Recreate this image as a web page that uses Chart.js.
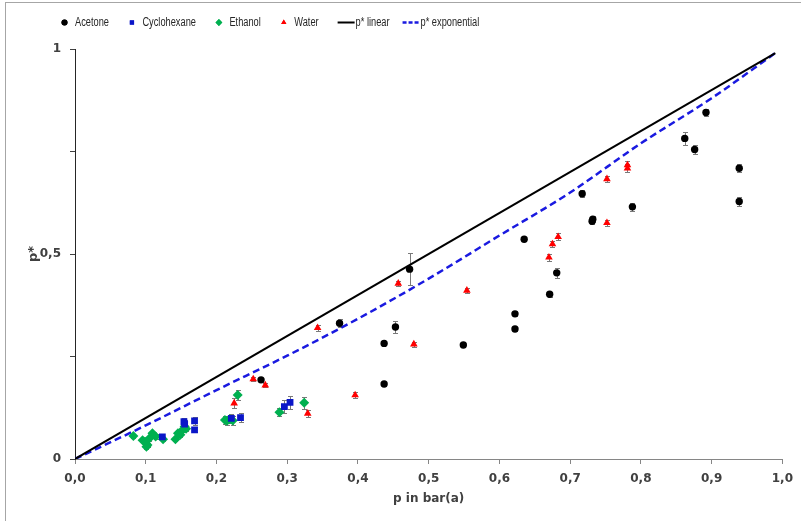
<!DOCTYPE html>
<html><head><meta charset="utf-8">
<script src="https://cdn.jsdelivr.net/npm/chart.js@4.4.1/dist/chart.umd.min.js"></script>
<style>html,body{margin:0;padding:0;background:#fff;}</style>
</head><body>
<canvas id="c" width="801" height="521"></canvas>
<script>
// ---- data ----
const xTickLabels = ['0,0','0,1','0,2','0,3','0,4','0,5','0,6','0,7','0,8','0,9','1,0'];
const yTickValues = [0, 0.25, 0.5, 0.75, 1];
const yTickLabels = ['0', '', '0,5', '', '1'];

const acetoneP     = [0.263,0.374,0.473,0.453,0.437,0.437,0.549,0.622,0.622,0.671,0.681,0.635,0.717,0.731,0.732,0.788,0.862,0.876,0.892,0.939,0.939];
const acetonePstar = [0.193,0.331,0.463,0.322,0.282,0.183,0.278,0.354,0.317,0.402,0.454,0.536,0.647,0.580,0.585,0.615,0.782,0.755,0.845,0.709,0.628];
const acetoneErr   = [0.005,0.010,0.039,0.015,0.005,0.005,0.005,0.006,0.006,0.006,0.013,0.005,0.008,0.008,0.008,0.010,0.015,0.010,0.008,0.010,0.010];

const cyclohexaneP     = [0.1235,0.154,0.155,0.169,0.169,0.221,0.234,0.296,0.304];
const cyclohexanePstar = [0.054,0.091,0.085,0.093,0.071,0.099,0.101,0.128,0.138];
const cyclohexaneErr   = [0.005,0.010,0.010,0.010,0.006,0.010,0.010,0.015,0.016];

const ethanolP     = [0.0825,0.0955,0.099,0.101,0.1025,0.105,0.1095,0.114,0.1245,0.142,0.1455,0.149,0.152,0.155,0.157,0.212,0.215,0.219,0.223,0.230,0.289,0.324];
const ethanolPstar = [0.056,0.046,0.042,0.030,0.034,0.050,0.063,0.055,0.048,0.048,0.063,0.059,0.071,0.079,0.074,0.095,0.093,0.097,0.094,0.156,0.114,0.137];
const ethanolErr   = [0.005,0.005,0.005,0.005,0.005,0.005,0.005,0.005,0.005,0.005,0.005,0.005,0.005,0.006,0.006,0.010,0.010,0.010,0.010,0.012,0.010,0.015];

const waterP     = [0.225,0.252,0.269,0.329,0.343,0.396,0.457,0.479,0.554,0.670,0.675,0.683,0.752,0.752,0.781,0.781];
const waterPstar = [0.136,0.195,0.180,0.111,0.320,0.156,0.428,0.280,0.411,0.492,0.524,0.542,0.683,0.576,0.717,0.709];
const waterErr   = [0.012,0.005,0.005,0.008,0.007,0.008,0.007,0.006,0.006,0.008,0.008,0.008,0.008,0.008,0.010,0.010];

const linearP     = [0, 0.99];
const linearPstar = [0, 0.99];

const expP     = [0, 0.1, 0.2, 0.3, 0.4, 0.5, 0.6, 0.7, 0.8, 0.9, 0.99];
const expPstar = [0, 0.082, 0.168, 0.252, 0.342, 0.440, 0.545, 0.650, 0.770, 0.880, 0.99];

// ---- helpers ----
const pts = (xs, ys) => xs.map((v, i) => ({x: v, y: ys[i]}));

const tickFont = {family: "'DejaVu Sans', sans-serif", size: 12, weight: 'bold'};
const legendFont = "12.5px 'Liberation Sans', Arial, sans-serif";
const legendSqueeze = 0.74;

const errorBars = {
  id: 'errorBars',
  beforeDatasetsDraw(chart) {
    const {ctx, scales: {x, y}} = chart;
    ctx.save();
    ctx.strokeStyle = '#7a7a7a';
    ctx.lineWidth = 1;
    chart.data.datasets.forEach(ds => {
      if (!ds.errors) return;
      ds.data.forEach((pt, j) => {
        const e = ds.errors[j];
        if (!e) return;
        const px = Math.round(x.getPixelForValue(pt.x)) + 0.5;
        const y1 = Math.round(y.getPixelForValue(pt.y - e)) + 0.5;
        const y2 = Math.round(y.getPixelForValue(pt.y + e)) + 0.5;
        ctx.beginPath();
        ctx.moveTo(px, y1); ctx.lineTo(px, y2);
        ctx.moveTo(px - 2.5, y1); ctx.lineTo(px + 2.5, y1);
        ctx.moveTo(px - 2.5, y2); ctx.lineTo(px + 2.5, y2);
        ctx.stroke();
      });
    });
    ctx.restore();
  }
};

const frame = {
  id: 'frame',
  afterDraw(chart) {
    const ctx = chart.ctx;
    ctx.save();
    ctx.strokeStyle = '#a6a6a6';
    ctx.lineWidth = 1;
    ctx.strokeRect(5.5, 2.5, 820, 540);
    ctx.restore();
  }
};

const customLegend = {
  id: 'customLegend',
  afterDraw(chart) {
    const ctx = chart.ctx;
    ctx.save();
    ctx.font = legendFont;
    ctx.textBaseline = 'middle';
    ctx.textAlign = 'left';
    const cy = 22.5;
    let xPos = 60.5;
    chart.data.datasets.forEach(ds => {
      if (ds.showLine) {
        ctx.strokeStyle = ds.borderColor;
        ctx.lineWidth = ds.borderWidth;
        ctx.setLineDash(ds.borderDash ? [4, 2] : []);
        ctx.beginPath();
        ctx.moveTo(xPos, cy); ctx.lineTo(xPos + 17, cy);
        ctx.stroke();
        ctx.setLineDash([]);
        xPos += 18;
      } else {
        ctx.fillStyle = ds.backgroundColor;
        ctx.strokeStyle = ds.borderColor;
        Chart.helpers.drawPoint(ctx, {pointStyle: ds.pointStyle, radius: ds.pointStyle === 'rectRot' ? 3.4 : 3, rotation: 0, borderWidth: 0}, xPos + 4, cy);
        ctx.fill();
        xPos += 14.5;
      }
      ctx.fillStyle = '#262626';
      const w = ctx.measureText(ds.label).width * legendSqueeze;
      ctx.save();
      ctx.translate(xPos, cy + 0.5);
      ctx.scale(legendSqueeze, 1);
      ctx.fillText(ds.label, 0, 0);
      ctx.restore();
      xPos += w + (ds.showLine ? 13 : 19);
    });
    ctx.restore();
  }
};

const markerDs = (label, xs, ys, errs, color, style, r) => ({
  label, data: pts(xs, ys), errors: errs,
  pointStyle: style, pointRadius: r, pointHoverRadius: r,
  backgroundColor: color, borderColor: color, pointBorderWidth: 0,
  showLine: false
});

new Chart(document.getElementById('c'), {
  type: 'scatter',
  data: {
    datasets: [
      markerDs('Acetone', acetoneP, acetonePstar, acetoneErr, '#000000', 'circle', 3.7),
      markerDs('Cyclohexane', cyclohexaneP, cyclohexanePstar, cyclohexaneErr, '#0a16c8', 'rect', 4.8),
      markerDs('Ethanol', ethanolP, ethanolPstar, ethanolErr, '#00b050', 'rectRot', 5),
      markerDs('Water', waterP, waterPstar, waterErr, '#ff0000', 'triangle', 4.4),
      {label: 'p* linear', data: pts(linearP, linearPstar), showLine: true, borderColor: '#000000',
       backgroundColor: '#000000', borderWidth: 2, pointRadius: 0, pointHoverRadius: 0, tension: 0},
      {label: 'p* exponential', data: pts(expP, expPstar), showLine: true, borderColor: '#1a1ae0',
       backgroundColor: '#1a1ae0', borderWidth: 2.5, borderDash: [7, 4], pointRadius: 0, pointHoverRadius: 0,
       cubicInterpolationMode: 'monotone'}
    ]
  },
  options: {
    responsive: false,
    animation: false,
    devicePixelRatio: 1,
    layout: {padding: {left: 0, right: 11, top: 49, bottom: 0}},
    plugins: {legend: {display: false}, tooltip: {enabled: false}},
    scales: {
      x: {
        type: 'linear', min: 0, max: 1,
        afterFit(s) { s.height = 62; },
        afterBuildTicks(s) { s.ticks = xTickLabels.map((_, i) => ({value: i / 10})); },
        ticks: {
          autoSkip: false, maxRotation: 0, padding: 8, color: '#404040', font: tickFont,
          callback: (v, i) => xTickLabels[i]
        },
        grid: {display: true, drawOnChartArea: false, drawTicks: true, tickLength: 5, color: '#868686'},
        border: {display: true, color: '#868686', width: 1},
        title: {display: true, text: 'p in bar(a)', color: '#404040', font: tickFont, padding: {top: 0, bottom: 15}}
      },
      y: {
        type: 'linear', min: 0, max: 1,
        afterFit(s) { s.width = 75; },
        afterBuildTicks(s) { s.ticks = yTickValues.map(v => ({value: v})); },
        ticks: {
          autoSkip: false, padding: 9, color: '#404040', font: tickFont,
          callback: (v, i) => yTickLabels[i]
        },
        grid: {display: true, drawOnChartArea: false, drawTicks: true, tickLength: 5, color: '#404040'},
        border: {display: true, color: '#262626', width: 1},
        title: {display: true, text: 'p*', color: '#404040', font: {family: "'DejaVu Sans', sans-serif", size: 13, weight: 'bold'}, padding: {top: 26, bottom: 0}}
      }
    }
  },
  plugins: [errorBars, customLegend, frame]
});
</script>
</body></html>
